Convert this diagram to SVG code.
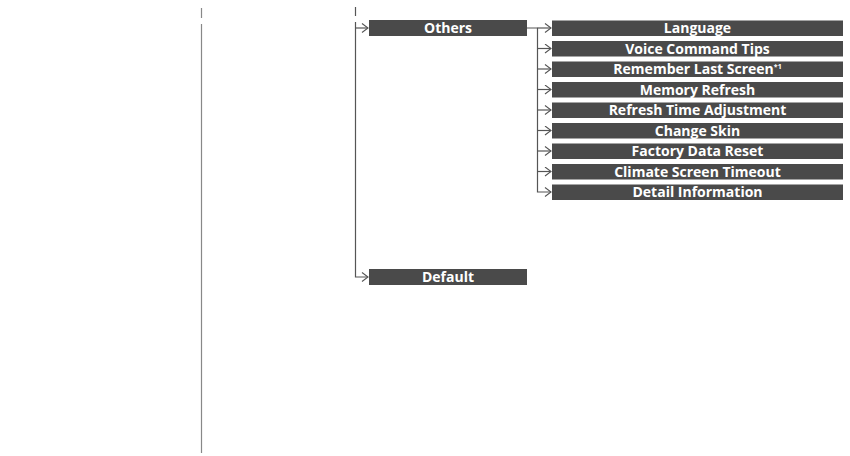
<svg xmlns="http://www.w3.org/2000/svg" width="850" height="456" viewBox="0 0 850 456">
<defs>
<style>
.box{fill:#4a4a4a}
.t{fill:#fff;font-family:"Open Sans","Noto Sans",sans-serif;font-weight:bold;font-size:14px;text-anchor:middle}
.sup{font-size:7px}
.ln{fill:none;stroke:#555;stroke-width:1.2}
.lg{fill:none;stroke:#888;stroke-width:1.2}
</style>
<marker id="ah" markerWidth="8" markerHeight="10" refX="7" refY="5" orient="auto" markerUnits="userSpaceOnUse">
<path d="M1,0.5 L7,5 L1,9.5" fill="none" stroke="#555" stroke-width="1.1"/>
</marker>
</defs>
<g id="connectors">
<path class="lg" d="M201.5,8 V18 M201.5,24 V453"/>
<path class="ln" d="M355.5,7 V16"/>
<path class="ln" d="M355.5,22 V277 H368" marker-end="url(#ah)"/>
<path class="ln" d="M355.5,28 H368" marker-end="url(#ah)"/>
<path class="ln" d="M527,28 H537.5 V192 H551" marker-end="url(#ah)"/>
<path class="ln" d="M537.5,28 H551" marker-end="url(#ah)"/>
<path class="ln" d="M537.5,48.5 H551" marker-end="url(#ah)"/>
<path class="ln" d="M537.5,69 H551" marker-end="url(#ah)"/>
<path class="ln" d="M537.5,89.5 H551" marker-end="url(#ah)"/>
<path class="ln" d="M537.5,110 H551" marker-end="url(#ah)"/>
<path class="ln" d="M537.5,130.5 H551" marker-end="url(#ah)"/>
<path class="ln" d="M537.5,151 H551" marker-end="url(#ah)"/>
<path class="ln" d="M537.5,171.5 H551" marker-end="url(#ah)"/>
</g>
<g id="others"><rect class="box" x="369" y="20" width="158" height="16"/><text class="t" x="448" y="33">Others</text></g>
<g id="default"><rect class="box" x="369" y="269" width="158" height="16"/><text class="t" x="448" y="282">Default</text></g>
<g id="language"><rect class="box" x="552" y="20.5" width="291" height="15.5"/><text class="t" x="697.5" y="33">Language</text></g>
<g id="voice"><rect class="box" x="552" y="41" width="291" height="15.5"/><text class="t" x="697.5" y="53.5">Voice Command Tips</text></g>
<g id="remember"><rect class="box" x="552" y="61.5" width="291" height="15.5"/><text class="t" x="697.5" y="74">Remember Last Screen<tspan class="sup" dy="-5">*1</tspan></text></g>
<g id="memory"><rect class="box" x="552" y="82" width="291" height="15.5"/><text class="t" x="697.5" y="94.5">Memory Refresh</text></g>
<g id="refresh"><rect class="box" x="552" y="102.5" width="291" height="15.5"/><text class="t" x="697.5" y="115">Refresh Time Adjustment</text></g>
<g id="skin"><rect class="box" x="552" y="123" width="291" height="15.5"/><text class="t" x="697.5" y="135.5">Change Skin</text></g>
<g id="factory"><rect class="box" x="552" y="143.5" width="291" height="15.5"/><text class="t" x="697.5" y="156">Factory Data Reset</text></g>
<g id="climate"><rect class="box" x="552" y="164" width="291" height="15.5"/><text class="t" x="697.5" y="176.5">Climate Screen Timeout</text></g>
<g id="detail"><rect class="box" x="552" y="184.5" width="291" height="15.5"/><text class="t" x="697.5" y="197">Detail Information</text></g>
</svg>
